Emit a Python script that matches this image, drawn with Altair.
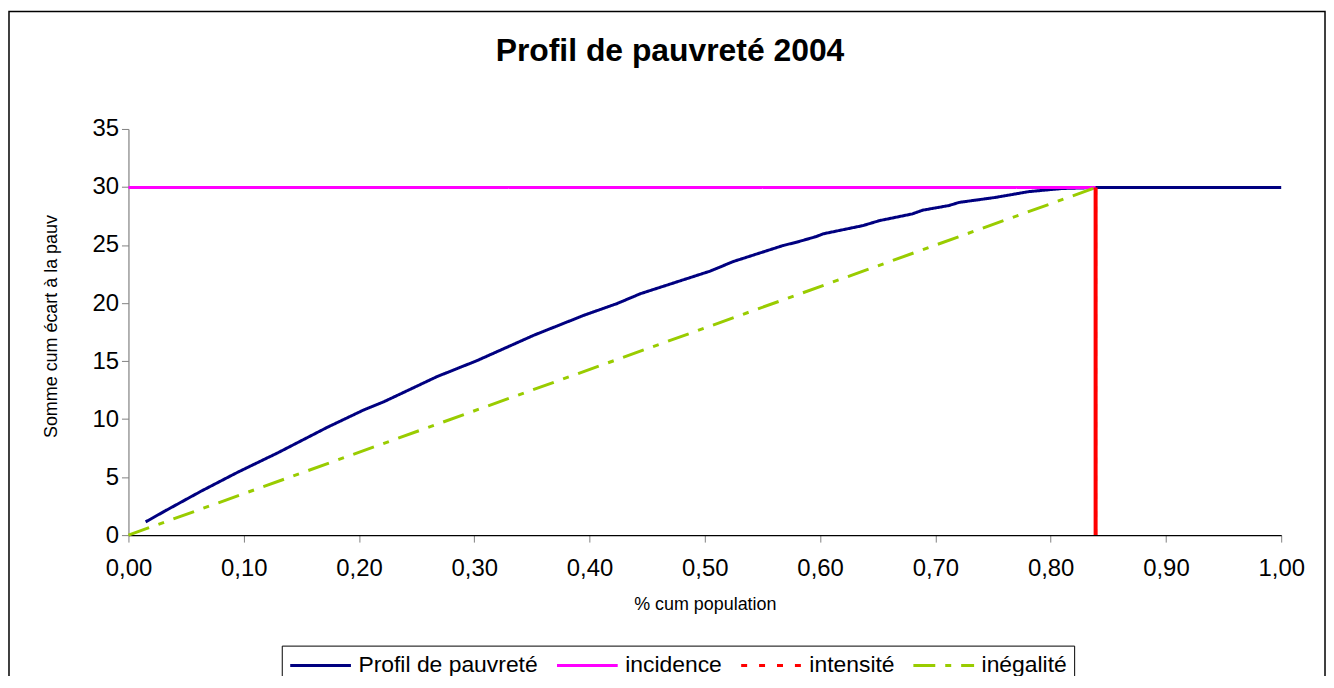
import altair as alt
import pandas as pd

# ---- data ----
series_names = ["Profil de pauvreté", "incidence", "intensité", "inégalité"]
series_colors = ["#000080", "#FF00FF", "#FF0000", "#99CC00"]

profil_x = [0.0149, 0.0317, 0.0633, 0.095, 0.1295, 0.1727, 0.2044, 0.2217, 0.2677,
            0.3022, 0.352, 0.3953, 0.424, 0.444, 0.5046, 0.5248, 0.568, 0.5795,
            0.5967, 0.6025, 0.637, 0.6514, 0.680, 0.6889, 0.7117, 0.7205, 0.752,
            0.781, 0.81, 0.839, 1.0]
profil_y = [1.14, 2.08, 3.8, 5.43, 7.09, 9.3, 10.8, 11.5, 13.66,
            15.03, 17.24, 18.95, 19.96, 20.8, 22.75, 23.58, 24.96, 25.24,
            25.73, 25.96, 26.67, 27.1, 27.68, 28.0, 28.4, 28.67, 29.1,
            29.6, 29.87, 29.95, 29.95]

incidence_x = [0.0, 0.839]
incidence_y = [29.95, 29.95]

intensite_x = [0.839, 0.839]
intensite_y = [0.0, 29.95]

inegalite_x = [0.0, 0.839]
inegalite_y = [0.0, 29.95]

x_ticks = [0.0, 0.1, 0.2, 0.3, 0.4, 0.5, 0.6, 0.7, 0.8, 0.9, 1.0]
y_ticks = [0, 5, 10, 15, 20, 25, 30, 35]

rows = []
for name, xs, ys in [
    (series_names[0], profil_x, profil_y),
    (series_names[1], incidence_x, incidence_y),
    (series_names[2], intensite_x, intensite_y),
    (series_names[3], inegalite_x, inegalite_y),
]:
    for i, (xv, yv) in enumerate(zip(xs, ys)):
        rows.append({"x": xv, "y": yv, "serie": name, "idx": i})
df = pd.DataFrame(rows)

FONT = "Liberation Sans"
PW, PH = 1158, 408

x_enc = alt.X(
    "x:Q",
    scale=alt.Scale(domain=[0, 1], nice=False, zero=False),
    axis=alt.Axis(
        values=x_ticks,
        labelExpr="replace(format(datum.value, '.2f'), '.', ',')",
        title="% cum population",
        titleX=PW / 2,
        titleY=70,
        titleAlign="center",
        titleBaseline="middle",
        titleFontSize=18,
        titleFontWeight="normal",
        titleFont=FONT,
        labelFont=FONT,
        labelFontSize=24,
        labelPadding=15,
        labelFlush=False,
        labelOverlap=False,
        labelBound=False,
        grid=False,
        domainColor="#000000",
        domainWidth=1.2,
        tickColor="#808080",
        tickSize=7,
        labelColor="#000000",
        titleColor="#000000",
    ),
)
y_enc = alt.Y(
    "y:Q",
    scale=alt.Scale(domain=[0, 35], nice=False, zero=True),
    axis=alt.Axis(
        values=y_ticks,
        title="Somme cum écart à la pauv",
        titleX=-77,
        titleY=198,
        titleAngle=-90,
        titleAlign="center",
        titleBaseline="middle",
        titleFontSize=18,
        titleFontWeight="normal",
        titleFont=FONT,
        labelFont=FONT,
        labelFontSize=24,
        labelPadding=3,
        labelOverlap=False,
        labelBound=False,
        labelFlush=False,
        grid=False,
        domainColor="#808080",
        domainWidth=1.2,
        tickColor="#808080",
        tickSize=7,
        labelColor="#000000",
        titleColor="#000000",
    ),
)

legend_opts = dict(
    title=None,
    orient="none",
    legendX=154,
    legendY=519,
    direction="horizontal",
    symbolType="stroke",
    symbolSize=3720,
    symbolStrokeWidth=3.5,
    clipHeight=26,
    labelFont=FONT,
    labelFontSize=23,
    labelColor="#000000",
    labelOffset=6,
    labelLimit=400,
    columnPadding=17,
    padding=7,
    strokeColor="#000000",
    fillColor="#FFFFFF",
)

lines = alt.Chart(df).mark_line(clip=False).encode(
    x=x_enc,
    y=y_enc,
    color=alt.Color(
        "serie:N",
        scale=alt.Scale(domain=series_names, range=series_colors),
        legend=alt.Legend(**legend_opts),
    ),
    strokeDash=alt.StrokeDash(
        "serie:N",
        scale=alt.Scale(domain=series_names,
                        range=[[1, 0], [1, 0], [6, 12], [22, 10, 6, 10]]),
        legend=alt.Legend(**legend_opts),
    ),
    strokeWidth=alt.StrokeWidth(
        "serie:N",
        scale=alt.Scale(domain=series_names, range=[3, 3, 4, 4]),
        legend=None,
    ),
    order=alt.Order("idx:Q"),
)

# the vertical intensity line looks practically solid inside the plot
intens_df = df[df["serie"] == "intensité"]
intens_solid = alt.Chart(intens_df).mark_line(color="#FF0000", strokeWidth=4).encode(
    x=alt.X("x:Q"), y=alt.Y("y:Q"), order=alt.Order("idx:Q")
)

# outer chart-area frame (decoration)
frame = alt.Chart(alt.Data(values=[{"f": 1}])).mark_rect(
    fill=None, stroke="#000000", strokeWidth=1.5, clip=False
).encode(
    x=alt.value(-120), x2=alt.value(PW + 44),
    y=alt.value(-118), y2=alt.value(PH + 200),
)

chart = alt.layer(frame, lines, intens_solid).properties(
    width=PW,
    height=PH,
    autosize=alt.AutoSizeParams(type="none"),
    padding={"left": 121, "top": 120, "right": 45, "bottom": 140},
    background="#FFFFFF",
    title=alt.TitleParams(
        "Profil de pauvreté 2004",
        font=FONT,
        fontSize=32,
        fontWeight="bold",
        color="#000000",
        anchor="middle",
        baseline="alphabetic",
        dx=-35,
        offset=-82,
    ),
).configure_view(stroke=None)

chart.save("out.html", embed_options={"renderer": "svg", "actions": False})
